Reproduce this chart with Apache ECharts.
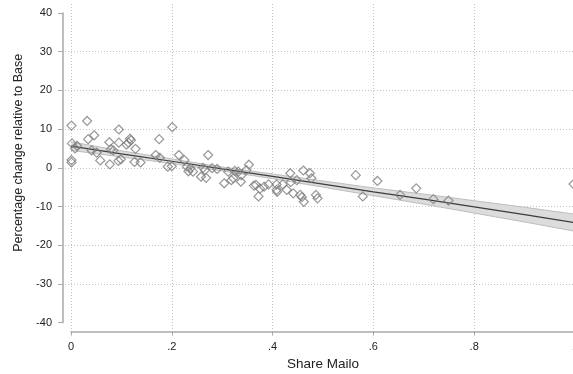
<!DOCTYPE html>
<html>
<head>
<meta charset="utf-8">
<script src="https://cdn.jsdelivr.net/npm/echarts@6/dist/echarts.min.js"></script>
<style>
html, body { margin: 0; padding: 0; background: #fff; }
#main { width: 573px; height: 374px; }
</style>
</head>
<body>
<div id="main"></div>
<script>
// scatter: share of Mailo vs % change relative to Base
var shareMailo = [
	0.001, 0.032, 0.002, 0.008, 0.012, 0.001, 0.001, 0.034, 0.046, 0.041, 0.051, 0.058,
	0.076, 0.079, 0.084, 0.077, 0.095, 0.095, 0.094, 0.099, 0.110, 0.114, 0.117, 0.119,
	0.128, 0.126, 0.138, 0.175, 0.168, 0.176, 0.192, 0.201, 0.200, 0.214, 0.225, 0.230,
	0.233, 0.237, 0.242, 0.258, 0.262, 0.266, 0.272, 0.268, 0.280, 0.290, 0.304, 0.312,
	0.318, 0.322, 0.325, 0.332, 0.337, 0.338, 0.348, 0.353, 0.363, 0.367, 0.372, 0.375,
	0.383, 0.392, 0.408, 0.408, 0.409, 0.420, 0.428, 0.435, 0.436, 0.441, 0.448, 0.455,
	0.458, 0.462, 0.461, 0.474, 0.477, 0.486, 0.489, 0.565, 0.579, 0.608, 0.653, 0.685,
	0.719, 0.749, 0.997
];
var pctChange = [
	10.9, 12.1, 6.3, 5.0, 5.7, 2.0, 1.4, 7.4, 8.4, 4.5, 3.9, 1.9,
	6.6, 4.8, 4.5, 0.9, 9.9, 6.5, 1.8, 2.2, 6.0, 6.5, 7.5, 7.1,
	4.9, 1.5, 1.4, 7.4, 3.3, 2.6, 0.3, 10.5, 0.4, 3.3, 2.0, 0.3,
	-0.9, -0.1, -1.0, -2.3, 0.0, -0.6, 3.3, -2.6, -0.1, -0.3, -4.0, -1.0,
	-3.2, -2.7, -0.8, -1.0, -3.6, -1.9, -0.6, 0.8, -4.6, -4.4, -7.4, -5.4,
	-4.9, -4.3, -4.3, -5.7, -6.2, -4.3, -5.7, -1.4, -3.7, -6.6, -3.2, -7.0,
	-7.6, -8.8, -0.7, -1.4, -2.7, -7.0, -7.9, -1.9, -7.4, -3.4, -7.0, -5.3,
	-8.1, -8.5, -4.2
];

// fitted line and 95% band
var fitX = [0, 0.1, 0.2, 0.3, 0.4, 0.5, 0.6, 0.7, 0.8, 0.9, 1.0];
var fitY = [5.6, 3.6, 1.7, -0.3, -2.2, -4.2, -6.2, -8.1, -10.1, -12.1, -14.2];
var ciLow = [4.5, 2.8, 1.1, -0.8, -2.8, -5.0, -7.2, -9.4, -11.7, -14.0, -16.4];
var ciHigh = [6.7, 4.4, 2.3, 0.2, -1.6, -3.4, -5.2, -6.8, -8.5, -10.2, -12.0];

var yMin = -40, yMax = 40, yStep = 10;
var xMin = 0, xMax = 1, xStep = 0.2;

var points = shareMailo.map(function(x, i) { return [x, pctChange[i]]; });
var fitLine = fitX.map(function(x, i) { return [x, fitY[i]]; });
var lowLine = fitX.map(function(x, i) { return [x, ciLow[i]]; });
var highLine = fitX.map(function(x, i) { return [x, ciHigh[i]]; });
var bandData = fitX.map(function(x, i) { return [x, ciLow[i], ciHigh[i]]; });

var txt = '#222';
var axisGray = '#a9a9a9';
var gridGray = '#c4c4c4';
var font = 'Liberation Sans, Arial, sans-serif';

var option = {
	animation: false,
	backgroundColor: '#fff',
	grid: [
		// data
		{ left: 71, top: 13, width: 504, height: 309.6, outerBoundsMode: 'none', containLabel: false },
		// vertical grid lines
		{ left: 71, top: 4, width: 504, height: 328, outerBoundsMode: 'none', containLabel: false },
		// horizontal grid lines
		{ left: 65, top: 13, width: 510, height: 309.6, outerBoundsMode: 'none', containLabel: false }
	],
	xAxis: [{
		gridIndex: 0,
		type: 'value',
		min: xMin,
		max: xMax,
		interval: xStep,
		offset: 9,
		axisLine: { show: true, onZero: false, lineStyle: { color: axisGray, width: 1.5 } },
		axisTick: { show: true, length: 4, lineStyle: { color: axisGray } },
		axisLabel: {
			margin: 10,
			color: txt,
			fontSize: 11,
			fontFamily: font,
			formatter: function(v) {
				return String(+v.toFixed(2)).replace(/^0\./, '.');
			}
		},
		splitLine: { show: false },
		name: 'Share Mailo',
		nameLocation: 'middle',
		nameGap: 26,
		nameTextStyle: { color: txt, fontSize: 13.5, fontFamily: font }
	}, {
		gridIndex: 1,
		type: 'value',
		min: xMin,
		max: xMax,
		interval: xStep,
		axisLine: { show: false, onZero: false },
		axisTick: { show: false },
		axisLabel: { show: false },
		splitLine: { show: true, lineStyle: { color: gridGray, type: [1, 2], width: 1 } }
	}, {
		gridIndex: 2,
		type: 'value',
		show: false,
		axisLine: { show: false, onZero: false }
	}],
	yAxis: [{
		gridIndex: 0,
		type: 'value',
		min: yMin,
		max: yMax,
		interval: yStep,
		offset: 8,
		axisLine: { show: true, onZero: false, lineStyle: { color: axisGray, width: 1.5 } },
		axisTick: { show: true, length: 5, lineStyle: { color: axisGray } },
		axisLabel: { margin: 11, color: txt, fontSize: 11, fontFamily: font },
		splitLine: { show: false },
		name: 'Percentage change relative to Base',
		nameLocation: 'middle',
		nameGap: 35,
		nameTextStyle: { color: txt, fontSize: 12.5, fontFamily: font, padding: [0, 0, 0, 30] }
	}, {
		gridIndex: 1,
		type: 'value',
		show: false,
		axisLine: { show: false, onZero: false }
	}, {
		gridIndex: 2,
		type: 'value',
		min: yMin,
		max: yMax,
		interval: yStep,
		axisLine: { show: false, onZero: false },
		axisTick: { show: false },
		axisLabel: { show: false },
		splitLine: {
			show: true,
			showMinLine: false,
			showMaxLine: false,
			lineStyle: { color: gridGray, type: [1, 2], width: 1 }
		}
	}],
	series: [{
		// confidence band
		type: 'custom',
		xAxisIndex: 0,
		yAxisIndex: 0,
		z: 1,
		silent: true,
		data: bandData,
		renderItem: function(params, api) {
			if (params.dataIndex !== 0) return;
			var pts = [];
			for (var i = 0; i < fitX.length; i++) pts.push(api.coord([fitX[i], ciHigh[i]]));
			for (var j = fitX.length - 1; j >= 0; j--) pts.push(api.coord([fitX[j], ciLow[j]]));
			return {
				type: 'polygon',
				shape: { points: pts },
				style: { fill: '#dcdcdc', stroke: null }
			};
		}
	}, {
		type: 'line',
		data: lowLine,
		symbol: 'none',
		z: 2,
		lineStyle: { color: '#bdbdbd', width: 1 }
	}, {
		type: 'line',
		data: highLine,
		symbol: 'none',
		z: 2,
		lineStyle: { color: '#bdbdbd', width: 1 }
	}, {
		type: 'line',
		data: fitLine,
		symbol: 'none',
		z: 3,
		lineStyle: { color: '#3c3c3c', width: 1.2 }
	}, {
		type: 'scatter',
		data: points,
		symbol: 'diamond',
		symbolSize: 9,
		z: 4,
		itemStyle: {
			color: 'rgba(0,0,0,0)',
			borderColor: '#7d7d7d',
			borderWidth: 1.2
		}
	}]
};

var my = echarts.init(document.getElementById('main'));
my.setOption(option);
</script>
</body>
</html>
